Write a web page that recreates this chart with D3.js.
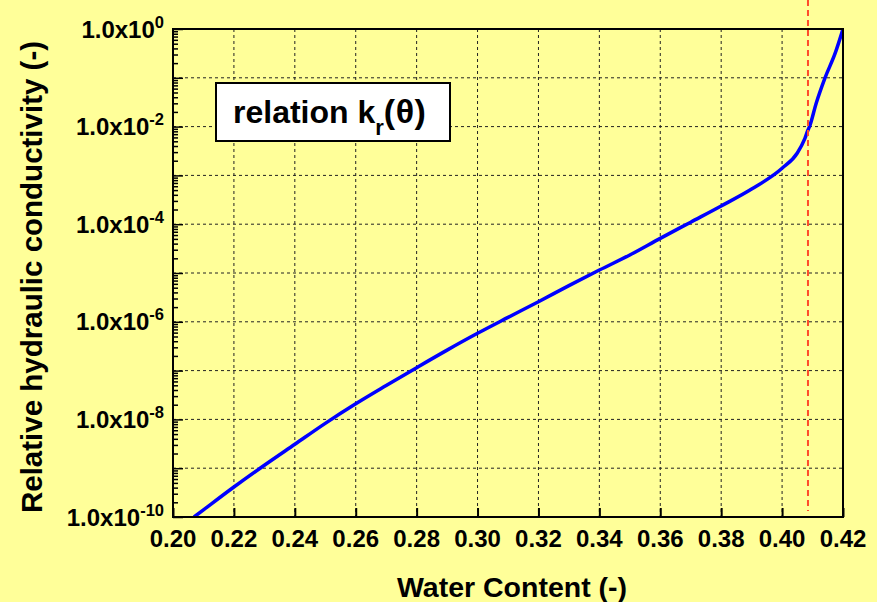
<!DOCTYPE html>
<html>
<head>
<meta charset="utf-8">
<script src="https://cdn.jsdelivr.net/npm/d3@7"></script>
<style>
  html, body { margin: 0; padding: 0; background: #FFFF99; }
  svg { display: block; }
  text { font-family: "Liberation Sans", Arial, Helvetica, sans-serif; font-weight: bold; fill: #000; }
</style>
</head>
<body>
<script>
// Relative hydraulic conductivity kr as a function of water content theta
const theta = [0.2069, 0.21, 0.22, 0.23, 0.24, 0.25, 0.26, 0.27, 0.28, 0.29, 0.30,
               0.31, 0.32, 0.33, 0.34, 0.35, 0.36, 0.37, 0.38, 0.39, 0.40,
               0.405, 0.4075, 0.4085, 0.409, 0.4112, 0.4141, 0.4174, 0.42];
const kr = [1.0e-10, 1.40e-10, 4.12e-10, 1.15e-9, 3.09e-9, 8.30e-9, 2.09e-8, 4.95e-8, 1.15e-7, 2.63e-7, 5.81e-7,
            1.23e-6, 2.58e-6, 5.50e-6, 1.15e-5, 2.34e-5, 5.13e-5, 1.10e-4, 2.36e-4, 5.25e-4, 1.40e-3,
            2.88e-3, 5.75e-3, 8.51e-3, 1.0e-2, 3.02e-2, 0.1, 0.316, 1.0];

// saturated water content marker
const thetaSat = 0.4085;

// axis ticks
const xTicks = [0.20, 0.22, 0.24, 0.26, 0.28, 0.30, 0.32, 0.34, 0.36, 0.38, 0.40, 0.42];
const yLabelExponents = [0, -2, -4, -6, -8, -10];
const yGridExponents = [0, -1, -2, -3, -4, -5, -6, -7, -8, -9, -10];

const title = "relation k";
const xTitle = "Water Content (-)";
const yTitle = "Relative hydraulic conductivity (-)";

const W = 877, H = 602;
const pLeft = 173, pRight = 843, pTop = 29, pBottom = 517;

const svg = d3.select("body").append("svg").attr("width", W).attr("height", H);
svg.append("rect").attr("width", W).attr("height", H).attr("fill", "#FFFF99");

const x = d3.scaleLinear().domain([0.20, 0.42]).range([pLeft, pRight]);
const y = d3.scaleLog().domain([1e-10, 1]).range([pBottom, pTop]);

// grid
const grid = svg.append("g").attr("stroke", "#222").attr("stroke-width", 1).attr("stroke-dasharray", "3,3");
grid.selectAll("line.v").data(xTicks.slice(1, -1)).join("line").attr("class", "v")
  .attr("x1", d => x(d)).attr("x2", d => x(d)).attr("y1", pTop).attr("y2", pBottom);
grid.selectAll("line.h").data(yGridExponents.slice(1, -1)).join("line").attr("class", "h")
  .attr("x1", pLeft).attr("x2", pRight).attr("y1", d => y(Math.pow(10, d))).attr("y2", d => y(Math.pow(10, d)));

// left axis: decade ticks and minor log ticks, drawn inward
const minor = [];
for (let e = -10; e < 0; e++) for (let m = 2; m <= 9; m++) minor.push(m * Math.pow(10, e));
const yAxisMinor = d3.axisRight(y).tickValues(minor).tickSize(5).tickFormat("");
const yAxisMajor = d3.axisRight(y).tickValues(yGridExponents.map(e => Math.pow(10, e))).tickSize(10).tickFormat("");
[yAxisMinor, yAxisMajor].forEach(ax => {
  const g = svg.append("g").attr("transform", `translate(${pLeft},0)`).call(ax);
  g.select(".domain").remove();
  g.selectAll("line").attr("stroke", "#000").attr("stroke-width", 1.5);
});

// bottom axis ticks, drawn inward
const xAxis = d3.axisTop(x).tickValues(xTicks).tickSize(9).tickFormat("");
const gx = svg.append("g").attr("transform", `translate(0,${pBottom})`).call(xAxis);
gx.select(".domain").remove();
gx.selectAll("line").attr("stroke", "#000").attr("stroke-width", 2);

// x tick labels
svg.append("g").selectAll("text").data(xTicks).join("text")
  .attr("x", d => x(d)).attr("y", 547).attr("text-anchor", "middle")
  .attr("font-size", 24).text(d => d.toFixed(2));

// y tick labels 1.0x10^n
const yl = svg.append("g").selectAll("text").data(yLabelExponents).join("text")
  .attr("x", 164).attr("y", d => y(Math.pow(10, d)) + 8.5).attr("text-anchor", "end").attr("font-size", 24);
yl.append("tspan").text("1.0x10");
yl.append("tspan").attr("font-size", 16.5).attr("dy", -10).text(d => String(d));

// curve
const clipId = "plotclip";
svg.append("clipPath").attr("id", clipId).append("rect")
  .attr("x", pLeft).attr("y", pTop - 2).attr("width", pRight - pLeft).attr("height", pBottom - pTop + 2);
const line = d3.line().x(d => x(d[0])).y(d => y(d[1])).curve(d3.curveMonotoneX);
svg.append("path").datum(theta.map((t, i) => [t, kr[i]]))
  .attr("clip-path", `url(#${clipId})`)
  .attr("fill", "none").attr("stroke", "#0000FF").attr("stroke-width", 3.5)
  .attr("stroke-linejoin", "round").attr("d", line);

// saturation marker
svg.append("line").attr("x1", x(thetaSat)).attr("x2", x(thetaSat)).attr("y1", 0).attr("y2", pBottom - 6)
  .attr("stroke", "#FF4A2A").attr("stroke-width", 2).attr("stroke-dasharray", "6,4");

// frame
svg.append("rect").attr("x", pLeft).attr("y", pTop).attr("width", pRight - pLeft).attr("height", pBottom - pTop)
  .attr("fill", "none").attr("stroke", "#000").attr("stroke-width", 2);

// title box
svg.append("rect").attr("x", 216).attr("y", 83).attr("width", 234).attr("height", 58)
  .attr("fill", "#fff").attr("stroke", "#000").attr("stroke-width", 2);
const tt = svg.append("text").attr("x", 233).attr("y", 123).attr("font-size", 32);
tt.append("tspan").text(title);
tt.append("tspan").attr("font-size", 22).attr("dy", 12).text("r");
tt.append("tspan").attr("dy", -12).attr("font-size", 34).attr("letter-spacing", 0.5).text("(θ)");

// axis titles
svg.append("text").attr("x", (pLeft + pRight) / 2 + 4).attr("y", 597).attr("text-anchor", "middle")
  .attr("font-size", 28.5).text(xTitle);
svg.append("text").attr("transform", "translate(42,277) rotate(-90)").attr("text-anchor", "middle")
  .attr("font-size", 29.5).text(yTitle);
</script>
</body>
</html>
